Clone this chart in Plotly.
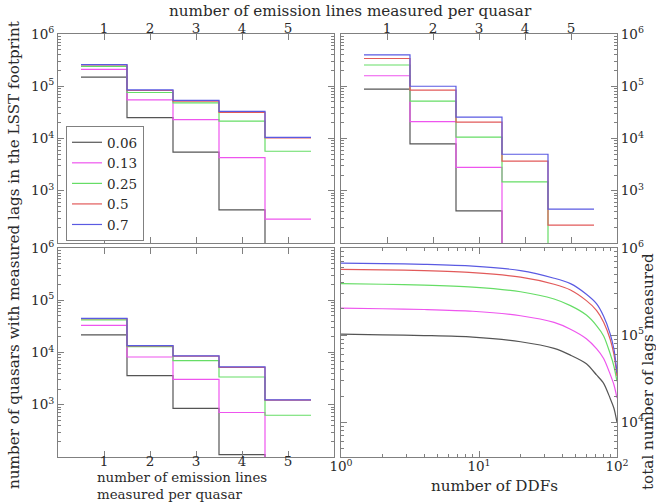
import plotly.graph_objects as go
import numpy as np

# ---------------- data ----------------
thresholds = ["0.06", "0.13", "0.25", "0.5", "0.7"]
line_colors = ["#555555", "#ee55ee", "#66dd66", "#e25a5a", "#5a5ae2"]
n_lines = [1, 2, 3, 4, 5]
line_ticktext = ["1", "2", "3", "4", "5"]

# top-left: LSST footprint (values of 1 = below the plotted range)
top_left = [
    [1.5e5, 2.5e4, 5.5e3, 430, 1],          # 0.06
    [2.1e5, 5.5e4, 2.3e4, 4.3e3, 286],      # 0.13
    [2.4e5, 7.6e4, 4.8e4, 2.15e4, 5.7e3],   # 0.25
    [2.55e5, 8.3e4, 5.2e4, 3.15e4, 1.03e4], # 0.5
    [2.6e5, 8.5e4, 5.35e4, 3.3e4, 1.05e4],  # 0.7
]
# top-right
top_right = [
    [8.8e4, 7.9e3, 412, 1, 1],
    [1.59e5, 2.1e4, 2.8e3, 1, 1],
    [2.55e5, 5.2e4, 1.06e4, 1.48e3, 1],
    [3.4e5, 8.4e4, 2.06e4, 3.7e3, 220],
    [4.0e5, 1.0e5, 2.57e4, 5.0e3, 444],
]
# bottom-left
bottom_left = [
    [2.17e4, 3.6e3, 850, 111, 1],
    [3.3e4, 8.2e3, 3.05e3, 711, 1],
    [4.2e4, 1.3e4, 7.0e3, 3.4e3, 630],
    [4.45e4, 1.34e4, 8.5e3, 5.2e3, 1.23e3],
    [4.5e4, 1.35e4, 8.6e3, 5.3e3, 1.24e3],
]
# bottom-right: total lags vs number of DDFs
n_ddf = [1, 2, 4, 9, 20, 35, 46, 60, 71, 80, 89, 95, 100]
total_006 = [1.03e5, 1.01e5, 9.9e4, 9.5e4, 8.4e4, 7.05e4, 5.9e4, 4.7e4, 3.5e4, 2.8e4, 1.9e4, 1.45e4, 1.0e4]
total_013 = [2.04e5, 2.01e5, 1.97e5, 1.88e5, 1.67e5, 1.4e5, 1.17e5, 9.1e4, 7.0e4, 5.4e4, 3.6e4, 2.7e4, 1.9e4]
total_025 = [3.9e5, 3.84e5, 3.76e5, 3.56e5, 3.15e5, 2.6e5, 2.18e5, 1.7e5, 1.29e5, 9.8e4, 6.2e4, 4.4e4, 2.95e4]
total_05 = [5.7e5, 5.62e5, 5.5e5, 5.22e5, 4.63e5, 3.84e5, 3.3e5, 2.49e5, 1.93e5, 1.41e5, 9.1e4, 6.0e4, 3.4e4]
total_07 = [6.7e5, 6.63e5, 6.5e5, 6.2e5, 5.5e5, 4.5e5, 3.9e5, 2.95e5, 2.3e5, 1.65e5, 1.05e5, 6.9e4, 3.7e4]
totals = [total_006, total_013, total_025, total_05, total_07]

y_tickvals = [1e3, 1e4, 1e5, 1e6]
y_ticktext = ["10<sup>3</sup>", "10<sup>4</sup>", "10<sup>5</sup>", "10<sup>6</sup>"]
br_tickvals = [1e4, 1e5, 1e6]
br_ticktext = ["10<sup>4</sup>", "10<sup>5</sup>", "10<sup>6</sup>"]
ddf_tickvals = [1, 10, 100]
ddf_ticktext = ["10<sup>0</sup>", "10<sup>1</sup>", "10<sup>2</sup>"]

# ---------------- figure ----------------
FONT = "DejaVu Serif"
TXT = "#2a2a2a"
AX = "#808080"
edges = [n - 0.5 for n in n_lines] + [n_lines[-1] + 0.5]

fig = go.Figure()

panels = [(top_left, "x", "y"), (top_right, "x2", "y2"), (bottom_left, "x3", "y3")]
for p, (data, xa, ya) in enumerate(panels):
    for i, vals in enumerate(data):
        fig.add_trace(go.Scatter(
            x=edges, y=list(vals) + [vals[-1]], mode="lines", line_shape="hv",
            line=dict(color=line_colors[i], width=1.2),
            name=thresholds[i], showlegend=(p == 0), xaxis=xa, yaxis=ya))

for i, vals in enumerate(totals):
    fig.add_trace(go.Scatter(
        x=n_ddf, y=vals, mode="lines", line_shape="spline",
        line=dict(color=line_colors[i], width=1.2, smoothing=0.8),
        showlegend=False, xaxis="x4", yaxis="y4"))

# pixel layout helpers
W, H = 656, 504
ml, mr, mt, mb = 58, 39, 34, 47
pw, ph = W - ml - mr, H - mt - mb
def px(x):
    return (x - ml) / pw
def py(y):
    return (H - mb - y) / ph

xdl = [px(58), px(334)]
xdr = [px(341), px(617)]
ydt = [py(243), py(34)]
ydb = [py(457), py(248)]

def minor_log(lo, hi):
    return [m * 10 ** e for e in range(lo, hi) for m in range(2, 10)]

common = dict(showline=True, linecolor=AX, linewidth=1, mirror="allticks",
              ticks="inside", ticklen=6, tickcolor=AX, showgrid=False,
              zeroline=False, tickfont=dict(family=FONT, size=13.5, color=TXT))

cat_x = dict(common, range=[0, 6], tickvals=n_lines, ticktext=line_ticktext)
logy = dict(common, type="log", range=[2, 6], tickvals=y_tickvals, ticktext=y_ticktext,
            minor=dict(ticks="inside", ticklen=3, tickcolor=AX, tickvals=minor_log(2, 6)))

fig.update_layout(
    width=W, height=H, margin=dict(l=ml, r=mr, t=mt, b=mb),
    paper_bgcolor="white", plot_bgcolor="white",
    font=dict(family=FONT, size=15, color=TXT),
    xaxis=dict(cat_x, domain=xdl, anchor="y", side="top", ticklabelstandoff=-5),
    yaxis=dict(logy, domain=ydt, anchor="x", side="left"),
    xaxis2=dict(cat_x, domain=xdr, anchor="y2", side="top", ticklabelstandoff=-5),
    yaxis2=dict(logy, domain=ydt, anchor="x2", side="right"),
    xaxis3=dict(cat_x, domain=xdl, anchor="y3", side="bottom", ticklabelstandoff=-8),
    yaxis3=dict(logy, domain=ydb, anchor="x3", side="left"),
    xaxis4=dict(common, type="log", range=[0, 2], domain=xdr, anchor="y4",
                tickvals=ddf_tickvals, ticktext=ddf_ticktext, ticklabelstandoff=-3,
                minor=dict(ticks="inside", ticklen=3, tickcolor=AX, tickvals=minor_log(0, 2))),
    yaxis4=dict(common, type="log", range=[np.log10(4000), 6], domain=ydb, anchor="x4",
                side="right", tickvals=br_tickvals, ticktext=br_ticktext,
                minor=dict(ticks="inside", ticklen=3, tickcolor=AX, tickvals=minor_log(3, 6))),
    legend=dict(x=px(66), y=py(126), xanchor="left", yanchor="top",
                bgcolor="white", bordercolor=AX, borderwidth=1,
                font=dict(family=FONT, size=13.5, color=TXT),
                tracegroupgap=0, itemwidth=30),
    showlegend=True,
)

ann = dict(xref="paper", yref="paper", showarrow=False,
           font=dict(family=FONT, size=15.2, color=TXT))
fig.add_annotation(ann, text="number of emission lines measured per quasar",
                   x=px(350), y=py(11), xanchor="center", yanchor="middle")
fig.add_annotation(ann, text="number of quasars with measured lags in the LSST footprint",
                   x=px(14), y=py(255), xanchor="center", yanchor="middle", textangle=-90)
fig.add_annotation(ann, text="total number of lags measured",
                   x=px(648), y=py(372), xanchor="center", yanchor="middle", textangle=-90)
fig.add_annotation(ann, text="number of emission lines<br>measured per quasar",
                   x=px(95), y=py(486), xanchor="left", yanchor="middle", align="left",
                   font=dict(family=FONT, size=13.4, color=TXT))
fig.add_annotation(ann, text="number of DDFs",
                   x=px(494), y=py(486), xanchor="center", yanchor="middle")

fig.write_html("out.html")
